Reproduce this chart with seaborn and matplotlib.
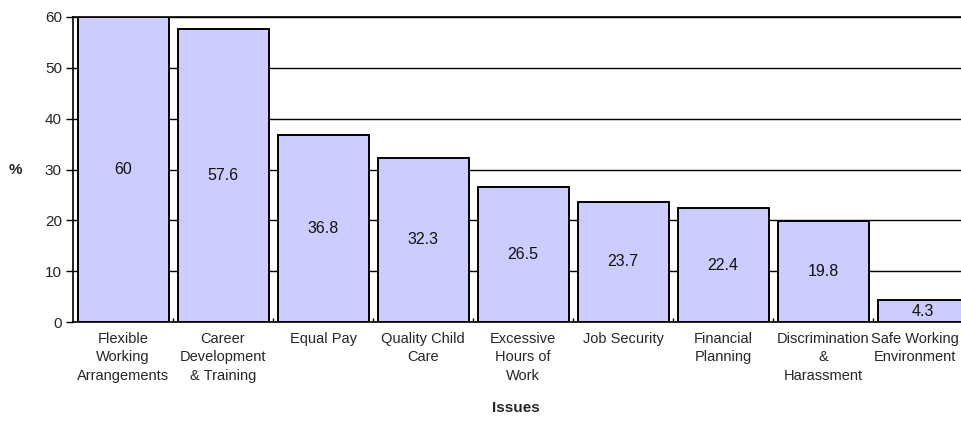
import matplotlib
matplotlib.use("Agg")
import matplotlib.pyplot as plt
import matplotlib.transforms as mtransforms
import seaborn as sns
from matplotlib.ticker import FixedLocator

# Issues and share of respondents (%)
issues = [
    "Flexible\nWorking\nArrangements",
    "Career\nDevelopment\n& Training",
    "Equal Pay",
    "Quality Child\nCare",
    "Excessive\nHours of\nWork",
    "Job Security",
    "Financial\nPlanning",
    "Discrimination\n&\nHarassment",
    "Safe Working\nEnvironment",
]
percent = [60, 57.6, 36.8, 32.3, 26.5, 23.7, 22.4, 19.8, 4.3]
y_ticks = [0, 10, 20, 30, 40, 50, 60]

sns.set_style("white")
plt.rcParams["font.family"] = ["Liberation Sans", "DejaVu Sans"]
plt.rcParams["text.color"] = "#111111"

W, H = 962, 421
fig = plt.figure(figsize=(W / 100, H / 100), dpi=100)
left, right, top, bottom = 73, 973, 17, 322
ax = fig.add_axes([left / W, (H - bottom) / H, (right - left) / W, (bottom - top) / H])

sns.barplot(x=issues, y=percent, ax=ax, color="#CCCCFF", saturation=1,
            edgecolor="black", linewidth=1.4, width=0.91, zorder=3)

for cont in ax.containers:
    ax.bar_label(cont, labels=[f"{v:g}" for v in percent], label_type="center",
                 fontsize=11.5, color="#111111", zorder=4)

ax.set_ylim(0, 60)
ax.set_xlim(-0.5, len(issues) - 0.5)
ax.set_yticks(y_ticks)
ax.yaxis.grid(True, color="black", linewidth=1.0)
ax.xaxis.grid(False)
ax.set_axisbelow(True)

for s in ax.spines.values():
    s.set_color("black")
    s.set_linewidth(1.2)
    s.set_visible(True)

ax.tick_params(axis="y", direction="out", length=5, width=1, color="black",
               labelsize=11, pad=3, left=True)
ax.tick_params(axis="x", which="major", length=0, labelsize=10.5, pad=7)
ax.xaxis.set_minor_locator(FixedLocator([i + 0.5 for i in range(len(issues) - 1)]))
ax.tick_params(axis="x", which="minor", direction="in", length=3, width=1,
               color="black", bottom=True)

for lbl in ax.get_xticklabels():
    lbl.set_linespacing(1.42)

# nudge the last category label left so it stays inside the figure
last = ax.get_xticklabels()[-1]
last.set_transform(last.get_transform()
                   + mtransforms.ScaledTranslation(-8 / 100, 0, fig.dpi_scale_trans))

ax.set_ylabel("%", rotation=0, fontsize=11, fontweight="bold", va="center", ha="center")
ax.yaxis.set_label_coords(-0.064, 0.5)
ax.set_xlabel("Issues", fontsize=11, fontweight="bold", va="top")
ax.xaxis.set_label_coords(0.492, -0.258)

fig.savefig("out.png", dpi=100)
